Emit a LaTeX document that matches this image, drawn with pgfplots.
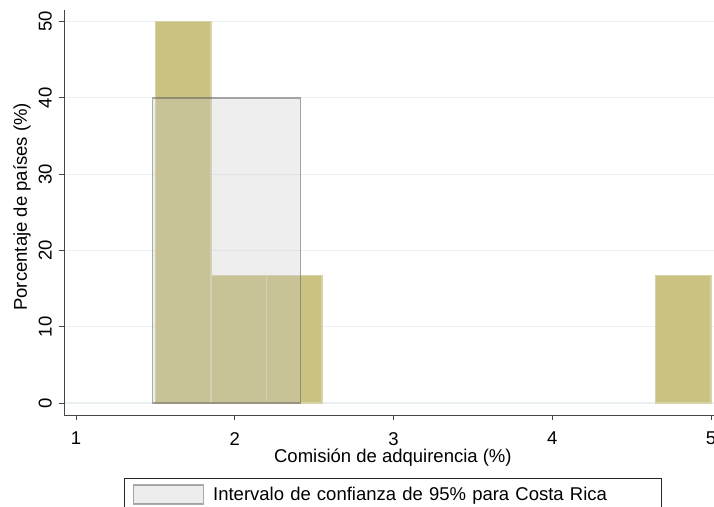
\documentclass[border=0pt]{standalone}
\usepackage{fontspec}
\setmainfont{Liberation Sans}
\usepackage{pgfplots}
\pgfplotsset{compat=1.18}

\definecolor{barfill}{RGB}{201,194,128}
\definecolor{baredge}{RGB}{216,211,166}
\definecolor{gridc}{RGB}{232,240,242}
\definecolor{cifill}{RGB}{200,200,200}
\definecolor{axisc}{RGB}{70,70,70}

\newcommand{\lblfont}{\fontsize{18.5bp}{22bp}\selectfont}

\begin{document}
\begin{tikzpicture}
\begin{axis}[
  at={(64bp,92bp)}, anchor=south west,
  scale only axis, width=650bp, height=405bp,
  xmin=0.924, xmax=5.019, ymin=-1.57, ymax=51.51,
  axis lines=left,
  axis line style={-, draw=axisc, line width=0.9bp},
  tick align=outside, major tick length=5bp,
  tick style={draw=axisc, line width=0.9bp},
  xtick={1,2,3,4,5}, ytick={0,10,20,30,40,50},
  ymajorgrids, grid style={draw=gridc, line width=1.2bp},
  /pgf/number format/assume math mode=true,
  ticklabel style={font=\lblfont},
  yticklabel style={rotate=90, anchor=south, inner sep=7bp},
  xticklabel style={inner sep=12bp},
  label style={font=\lblfont},
  xlabel={Comisión de adquirencia (\%)},
  ylabel={Porcentaje de países (\%)},
  xlabel style={at={(axis description cs:0.506,-0.106)}, anchor=center},
  ylabel style={at={(axis description cs:-0.0646,0.514)}, anchor=center},
  legend style={
    at={(axis description cs:0.506,-0.1556)}, anchor=north,
    draw=black!85, line width=0.8bp,
    inner xsep=8bp, inner ysep=6bp,
    font=\lblfont,
    nodes={text width=438bp, align=left},
  },
  legend image code/.code={%
    \draw[#1] (0bp,-9.5bp) rectangle (70bp,9.5bp);
    \path (77bp,0bp);},
]
% histogram of the acquiring fee (bin width 0.35)
\addplot[ybar interval, fill=barfill, draw=baredge, line width=1.2bp, forget plot]
  coordinates {(1.5,50) (1.85,16.667) (2.2,16.667) (2.55,16.667)};
\addplot[ybar interval, fill=barfill, draw=baredge, line width=1.2bp, forget plot]
  coordinates {(4.65,16.667) (5.0,16.667)};
% 95% confidence interval for Costa Rica
\addplot[ybar interval, fill=cifill, fill opacity=0.31,
  draw=black!65, draw opacity=0.5, line width=1.5bp]
  coordinates {(1.483,40) (2.415,40)};
\addlegendentry{Intervalo de confianza de 95\% para Costa Rica}
\end{axis}
\pgfresetboundingbox
\path (0,0) rectangle (714bp,507bp);
\end{tikzpicture}
\end{document}
